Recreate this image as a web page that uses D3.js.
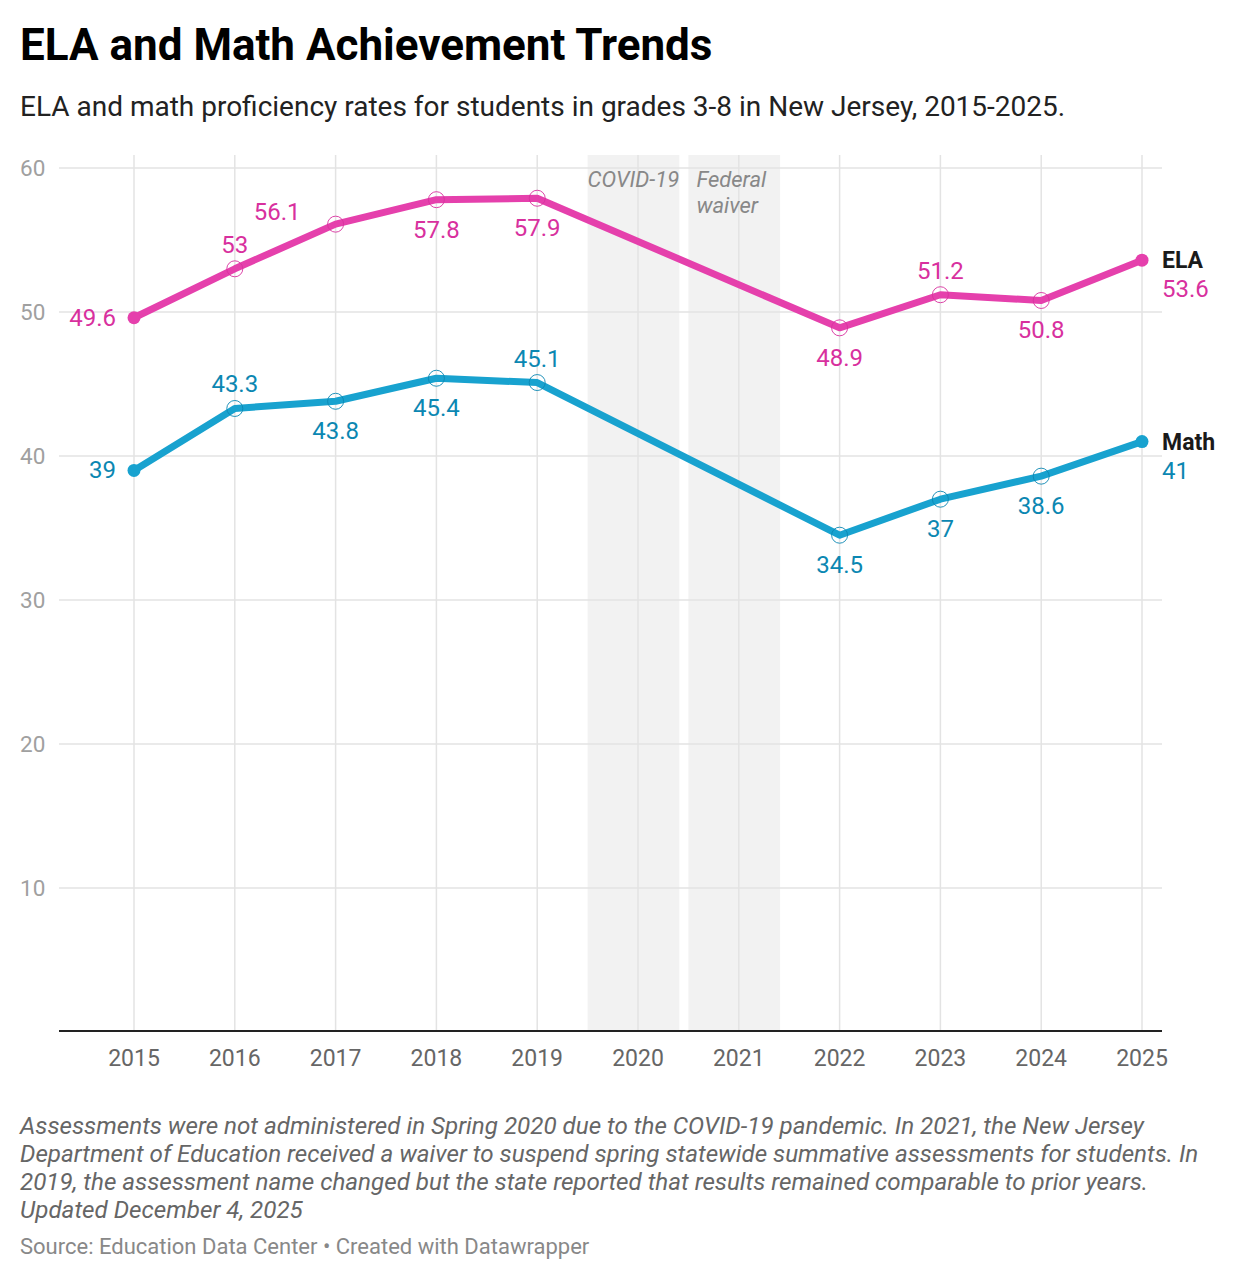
<!DOCTYPE html>
<html>
<head>
<meta charset="utf-8">
<script src="https://cdn.jsdelivr.net/npm/d3@7"></script>
<style>
  body { margin: 0; background: #fff; font-family: Roboto, "Noto Sans", sans-serif; }
</style>
</head>
<body>
<div id="chart"></div>
<script>
var years = [2015, 2016, 2017, 2018, 2019, 2022, 2023, 2024, 2025]
var elaValues = [49.6, 53, 56.1, 57.8, 57.9, 48.9, 51.2, 50.8, 53.6]
var mathValues = [39, 43.3, 43.8, 45.4, 45.1, 34.5, 37, 38.6, 41]
var elaLabelSpots = ["left", "above", "upleft", "below", "below", "below", "above", "below", "end"]
var mathLabelSpots = ["left", "above", "below", "below", "above", "below", "below", "below", "end"]
var xTicks = [2015, 2016, 2017, 2018, 2019, 2020, 2021, 2022, 2023, 2024, 2025]
var yTicks = [10, 20, 30, 40, 50, 60]
var bands = [
  {name: ["COVID-19"], from: 2019.5, to: 2020.41},
  {name: ["Federal", "waiver"], from: 2020.5, to: 2021.41}
]
var notes = [
  "Assessments were not administered in Spring 2020 due to the COVID-19 pandemic. In 2021, the New Jersey",
  "Department of Education received a waiver to suspend spring statewide summative assessments for students. In",
  "2019, the assessment name changed but the state reported that results remained comparable to prior years.",
  "Updated December 4, 2025"
]

var width = 1238
var height = 1280

var svg = d3.select("#chart").append("svg").attr("width", width).attr("height", height)
  .style("font-family", "Roboto, sans-serif")

svg.append("text").text("ELA and Math Achievement Trends")
  .attr("x", 20).attr("y", 60)
  .style("font-size", "44px").style("font-weight", 700).attr("fill", "#000")

svg.append("text").text("ELA and math proficiency rates for students in grades 3-8 in New Jersey, 2015-2025.")
  .attr("x", 20).attr("y", 116)
  .style("font-size", "28px").attr("fill", "#222")

var x = d3.scaleLinear().domain([2015, 2025]).range([134, 1142])
var y = d3.scaleLinear().domain([0, 60]).range([1032, 168])
var plotLeft = 59, plotRight = 1162, plotTop = 155

// shaded periods
bands.forEach(function(b) {
  svg.append("rect")
    .attr("x", x(b.from)).attr("y", plotTop)
    .attr("width", x(b.to) - x(b.from)).attr("height", y(0) - plotTop)
    .attr("fill", "#f2f2f2")
})

// grid
svg.append("g").selectAll("line").data(yTicks).join("line")
  .attr("x1", plotLeft).attr("x2", plotRight)
  .attr("y1", function(d) { return y(d) }).attr("y2", function(d) { return y(d) })
  .attr("stroke", "#e3e3e3").attr("stroke-width", 1.5)

svg.append("g").selectAll("line").data(xTicks).join("line")
  .attr("x1", function(d) { return x(d) }).attr("x2", function(d) { return x(d) })
  .attr("y1", plotTop).attr("y2", y(0))
  .attr("stroke", "#e3e3e3").attr("stroke-width", 1.5)

bands.forEach(function(b) {
  b.name.forEach(function(t, i) {
    svg.append("text").text(t)
      .attr("x", x(b.from) + (b.name.length == 1 ? 0 : 8))
      .attr("y", 187 + i * 26)
      .style("font-size", "22px").style("font-style", "italic")
      .attr("fill", "#888")
  })
})

// y tick labels
svg.append("g").selectAll("text").data(yTicks).join("text")
  .text(function(d) { return d })
  .attr("x", 20).attr("y", function(d) { return y(d) + 8 })
  .style("font-size", "22.5px").attr("fill", "#a0a0a0")

// baseline
svg.append("line")
  .attr("x1", plotLeft).attr("x2", plotRight).attr("y1", y(0) - 1).attr("y2", y(0) - 1)
  .attr("stroke", "#222").attr("stroke-width", 2)

// x tick labels
svg.append("g").selectAll("text").data(xTicks).join("text")
  .text(function(d) { return d })
  .attr("x", function(d) { return x(d) }).attr("y", 1066)
  .attr("text-anchor", "middle")
  .style("font-size", "23px").attr("fill", "#666")

var series = [
  {name: "ELA", values: elaValues, spots: elaLabelSpots, line: "#e540ac", text: "#d8309e"},
  {name: "Math", values: mathValues, spots: mathLabelSpots, line: "#18a2cf", text: "#0b87b2"}
]

var line = d3.line()
  .x(function(d, i) { return x(years[i]) })
  .y(function(d) { return y(d) })

series.forEach(function(s) {
  svg.append("path")
    .attr("d", line(s.values))
    .attr("fill", "none").attr("stroke", s.line)
    .attr("stroke-width", 7).attr("stroke-linejoin", "round").attr("stroke-linecap", "round")

  var n = s.values.length
  // start and end dots
  ;[0, n - 1].forEach(function(i) {
    svg.append("circle").attr("cx", x(years[i])).attr("cy", y(s.values[i]))
      .attr("r", 6.5).attr("fill", s.line)
  })
  // hollow markers
  for (var i = 1; i < n - 1; i++) {
    svg.append("circle").attr("cx", x(years[i])).attr("cy", y(s.values[i]))
      .attr("r", 8).attr("fill", "none").attr("stroke", s.text).attr("stroke-width", 0.9)
  }

  s.values.forEach(function(v, i) {
    var px = x(years[i]), py = y(v)
    var spot = s.spots[i]
    var t = svg.append("text").text(v)
      .style("font-size", "24px").attr("fill", s.text)
    if (spot == "left") {
      t.attr("x", px - 18).attr("y", py + 8).attr("text-anchor", "end")
    } else if (spot == "above") {
      t.attr("x", px).attr("y", py - 16).attr("text-anchor", "middle")
    } else if (spot == "below") {
      t.attr("x", px).attr("y", py + 38).attr("text-anchor", "middle")
    } else if (spot == "upleft") {
      t.attr("x", px - 35).attr("y", py - 4).attr("text-anchor", "end")
    } else if (spot == "end") {
      t.attr("x", px + 20).attr("y", py + 37)
      svg.append("text").text(s.name)
        .attr("x", px + 20).attr("y", py + 8)
        .style("font-size", "23px").style("font-weight", 700).attr("fill", "#1a1a1a")
    }
  })
})

// notes
svg.append("g").selectAll("text").data(notes).join("text")
  .text(function(d) { return d })
  .attr("x", 20).attr("y", function(d, i) { return 1134 + i * 28 })
  .style("font-size", "24.2px").style("font-style", "italic").attr("fill", "#666")

svg.append("text").text("Source: Education Data Center \u2022 Created with Datawrapper")
  .attr("x", 20).attr("y", 1254)
  .style("font-size", "22px").attr("fill", "#888")
</script>
</body>
</html>
